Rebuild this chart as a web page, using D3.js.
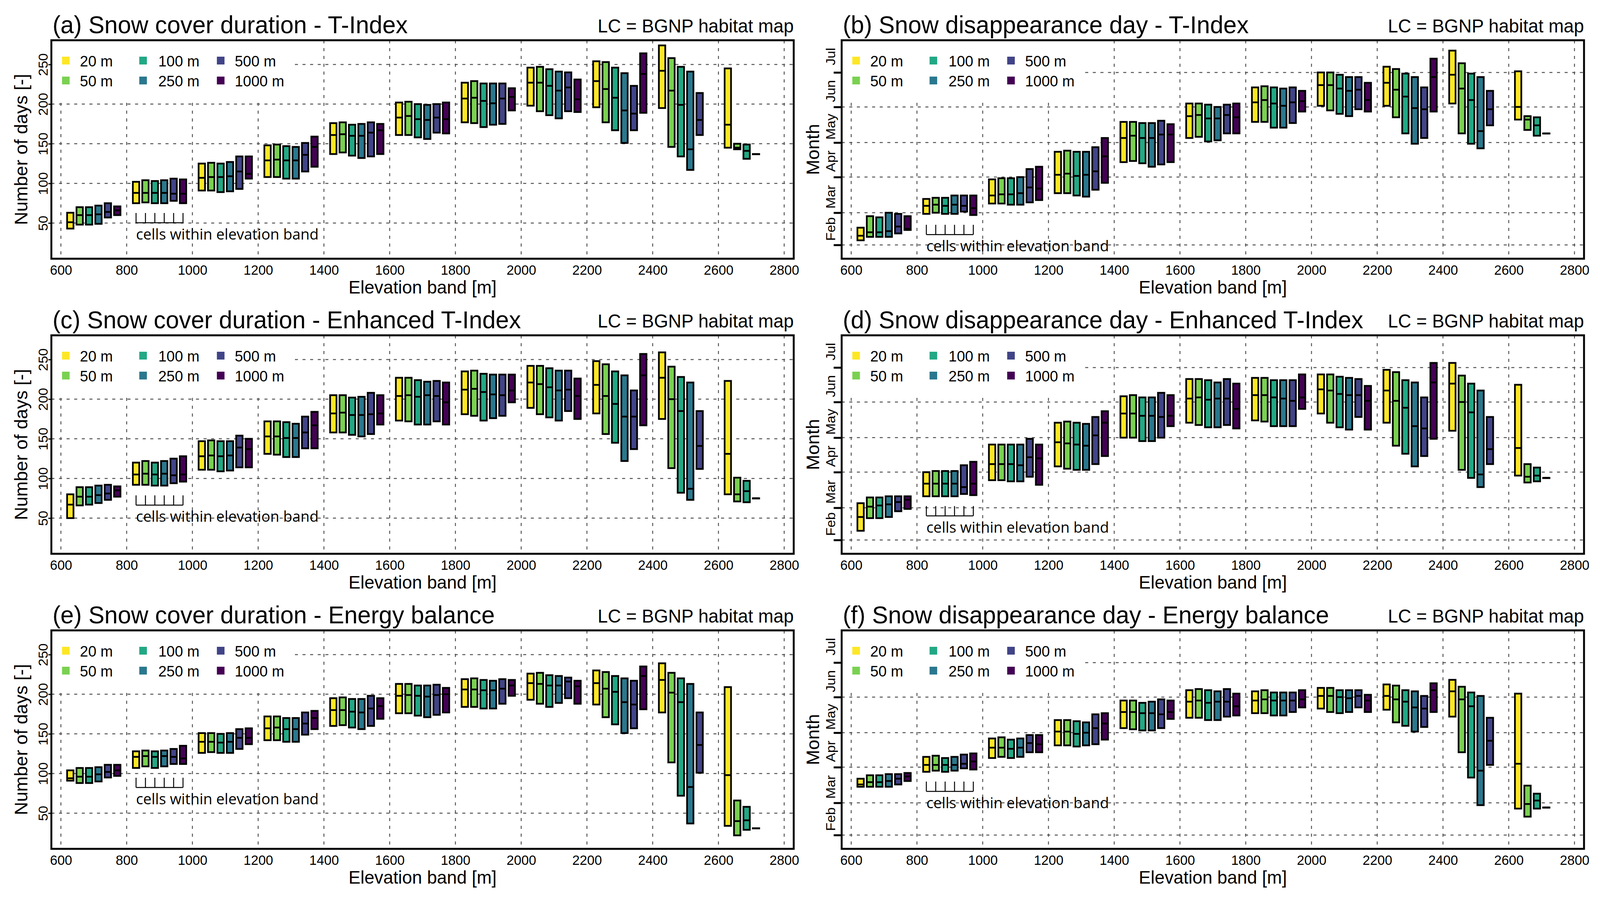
<!DOCTYPE html>
<html>
<head>
<meta charset="utf-8">
<script src="https://cdn.jsdelivr.net/npm/d3@7"></script>
<style>
  html, body { margin: 0; padding: 0; width: 100%; height: 100%; overflow: hidden; background: #fff; }
  #chart { width: 100vw; height: 100vh; }
  svg { display: block; width: 100%; height: 100%; }
</style>
</head>
<body>
<div id="chart"></div>
<script>
'use strict';

// elevation bands (lower bound, m) and grid resolutions
const bands = [600, 800, 1000, 1200, 1400, 1600, 1800, 2000, 2200, 2400, 2600];
const resolutions = ['20 m', '50 m', '100 m', '250 m', '500 m', '1000 m'];
const resColors = ['#FDE725', '#7AD151', '#22A884', '#2A788E', '#414487', '#440154'];

const elevTicks = [600, 800, 1000, 1200, 1400, 1600, 1800, 2000, 2200, 2400, 2600, 2800];
const dayTicks = [50, 100, 150, 200, 250];
// day of year: first of month (ticks / grid) and mid month (labels)
const monthStarts = [32, 60, 91, 121, 152, 182];
const monthMids = [46, 74, 105, 135, 166, 196];
const monthLabels = ['Feb', 'Mar', 'Apr', 'May', 'Jun', 'Jul'];

// [low, median, high] per band, per resolution (null = no cells)
const scdTIndex = [
  [[43,51,63],[48,60,70],[48,60,70],[49,61,72],[57,64,75],[60,66,71]],
  [[75,88,102],[76,88,104],[75,88,103],[75,88,104],[78,87,106],[75,87,105]],
  [[91,107,125],[91,108,126],[89,108,125],[90,109,127],[93,115,134],[106,112,134]],
  [[108,129,148],[108,130,149],[106,129,147],[106,129,146],[115,136,151],[121,146,159]],
  [[137,161,176],[139,162,177],[135,160,174],[132,160,175],[134,164,177],[137,167,175]],
  [[161,183,202],[161,185,203],[158,181,200],[156,180,199],[164,183,200],[163,181,202]],
  [[177,207,227],[176,208,229],[171,204,226],[174,201,226],[175,207,226],[192,209,220]],
  [[198,227,246],[191,227,247],[186,223,244],[182,217,241],[191,221,240],[190,206,231]],
  [[196,229,254],[177,219,253],[167,208,246],[151,192,239],[167,188,223],[189,238,264]],
  [[195,242,274],[146,217,258],[134,199,247],[117,143,241],[161,180,214],null],
  [[145,174,245],[143,145,150],[131,141,149],[137,137,137],null,null]
];

const sddTIndex = [
  [[36,40,47],[39,43,57],[39,43,56],[39,44,60],[42,48,59],[45,46,57]],
  [[59,66,72],[60,67,73],[59,66,73],[59,67,75],[61,66,75],[58,64,75]],
  [[68,75,89],[68,76,90],[67,76,90],[67,77,91],[69,82,98],[71,81,100]],
  [[77,93,113],[77,94,114],[75,92,113],[74,93,113],[80,96,117],[86,109,125]],
  [[104,125,139],[105,127,139],[103,125,138],[100,125,138],[102,128,140],[104,128,137]],
  [[125,144,155],[126,145,155],[122,142,154],[123,142,152],[129,145,154],[129,143,155]],
  [[139,156,169],[139,158,170],[134,155,169],[134,153,168],[138,156,169],[148,157,166]],
  [[153,171,182],[149,171,182],[146,168,180],[144,166,178],[150,167,178],[148,158,173]],
  [[153,173,187],[143,167,185],[129,161,181],[120,151,178],[125,150,169],[148,178,194]],
  [[155,180,201],[129,168,190],[120,158,181],[116,131,178],[136,150,166],null],
  [[141,152,183],[132,141,144],[127,136,143],[129,129,129],null,null]
];

const scdEnhanced = [
  [[50,67,80],[66,77,89],[67,77,89],[69,79,91],[73,81,92],[77,85,90]],
  [[92,105,120],[92,106,122],[91,105,120],[91,106,122],[94,104,125],[96,105,128]],
  [[111,128,147],[111,129,148],[109,128,147],[110,129,147],[114,139,154],[114,137,150]],
  [[131,153,172],[130,153,172],[127,151,171],[127,151,169],[138,158,178],[138,167,184]],
  [[158,182,205],[158,183,205],[155,180,202],[153,180,203],[156,181,208],[168,182,205]],
  [[173,204,227],[172,205,227],[168,203,224],[168,205,222],[172,204,223],[168,196,221]],
  [[181,212,235],[179,213,236],[173,209,232],[176,206,231],[179,205,231],[196,211,231]],
  [[189,221,242],[181,219,242],[177,215,239],[173,211,236],[185,212,236],[175,204,226]],
  [[182,218,248],[156,204,244],[145,194,235],[122,178,230],[137,178,211],[167,230,257]],
  [[175,227,259],[113,200,241],[82,185,228],[73,87,221],[112,141,185],null],
  [[80,131,223],[71,80,101],[70,84,97],[75,75,75],null,null]
];

const sddEnhanced = [
  [[40,52,64],[51,61,69],[51,62,69],[52,63,70],[57,65,70],[59,67,70]],
  [[70,81,91],[70,81,92],[70,81,92],[70,81,92],[72,78,97],[71,81,100]],
  [[84,98,115],[84,98,115],[83,98,115],[83,97,115],[87,104,120],[80,103,115]],
  [[96,117,134],[94,116,135],[93,115,134],[93,114,133],[98,123,139],[105,134,144]],
  [[121,142,157],[121,142,158],[118,140,156],[118,140,156],[121,139,160],[131,140,158]],
  [[134,155,172],[132,156,172],[130,154,171],[130,155,169],[132,155,172],[129,146,168]],
  [[136,158,173],[135,158,173],[131,156,171],[131,155,171],[131,153,171],[146,156,176]],
  [[142,163,176],[134,162,176],[130,159,174],[128,158,173],[139,158,172],[128,153,166]],
  [[134,162,180],[114,153,178],[107,147,171],[96,131,169],[105,129,156],[120,169,186]],
  [[127,168,186],[93,152,175],[86,143,168],[78,89,162],[98,111,139],null],
  [[88,112,167],[82,87,98],[83,88,95],[86,86,86],null,null]
];

const scdEnergy = [
  [[91,94,104],[88,96,107],[88,96,107],[90,99,108],[95,102,111],[97,104,111]],
  [[107,121,128],[109,122,129],[107,121,128],[109,122,129],[112,121,131],[112,119,135]],
  [[126,140,151],[127,140,151],[126,139,150],[126,140,151],[131,145,156],[137,145,157]],
  [[142,157,172],[142,158,172],[140,156,170],[140,156,170],[149,163,177],[156,170,179]],
  [[160,180,195],[161,180,196],[158,178,194],[156,177,194],[160,182,198],[169,185,195]],
  [[176,198,213],[176,199,213],[173,198,211],[171,197,211],[174,199,212],[177,200,208]],
  [[184,206,219],[184,206,220],[182,205,218],[182,205,217],[188,207,219],[198,211,218]],
  [[193,214,226],[188,213,227],[184,211,224],[189,211,223],[195,216,221],[188,210,217]],
  [[187,214,230],[171,207,228],[162,203,223],[151,190,220],[157,187,217],[181,223,235]],
  [[177,218,239],[114,202,227],[72,190,220],[37,83,213],[101,136,177],null],
  [[34,98,209],[22,40,66],[29,41,58],[31,31,31],null,null]
];

const sddEnergy = [
  [[74,76,81],[74,78,84],[74,78,84],[74,79,85],[76,81,85],[79,83,86]],
  [[87,93,100],[88,93,101],[87,93,99],[88,93,100],[90,94,102],[89,96,103]],
  [[99,108,116],[100,108,117],[99,107,115],[100,108,116],[104,112,119],[104,111,119]],
  [[110,122,132],[110,122,132],[109,120,131],[110,121,130],[111,125,137],[115,129,138]],
  [[125,139,149],[124,139,149],[123,138,147],[123,138,148],[125,137,150],[133,139,149]],
  [[134,148,158],[134,149,159],[132,147,158],[132,148,157],[135,148,159],[136,144,155]],
  [[138,149,157],[138,150,158],[136,149,156],[136,149,156],[139,149,156],[143,150,158]],
  [[142,153,160],[139,153,160],[138,152,158],[139,151,158],[143,153,158],[139,149,154]],
  [[141,153,163],[130,150,162],[127,148,158],[122,143,157],[126,142,153],[139,158,164]],
  [[135,157,167],[104,150,161],[82,144,156],[58,88,153],[93,114,134],null],
  [[55,94,155],[48,59,75],[55,62,68],[56,56,56],null,null]
];

const panels = [
  {title: '(a) Snow cover duration - T-Index', kind: 'days', data: scdTIndex, col: 0, row: 0},
  {title: '(b) Snow disappearance day - T-Index', kind: 'doy', data: sddTIndex, col: 1, row: 0},
  {title: '(c) Snow cover duration - Enhanced T-Index', kind: 'days', data: scdEnhanced, col: 0, row: 1},
  {title: '(d) Snow disappearance day - Enhanced T-Index', kind: 'doy', data: sddEnhanced, col: 1, row: 1},
  {title: '(e) Snow cover duration - Energy balance', kind: 'days', data: scdEnergy, col: 0, row: 2},
  {title: '(f) Snow disappearance day - Energy balance', kind: 'doy', data: sddEnergy, col: 1, row: 2}
];

const W = 4205, H = 2308;
const colLeft = [135, 2212];
const rowTop = [103, 858, 1613];
const plotW = 1951, plotH = 559;
const step = 200 / 7;        // spacing of resolutions inside a band
const FONT = '"Liberation Sans", Arial, sans-serif';

// the drawing is laid out in a 4205 x 2308 box and scaled to whatever viewport we get
const svg = d3.select('#chart').append('svg')
    .attr('viewBox', `0 0 ${W} ${H}`)
    .attr('preserveAspectRatio', 'none');
svg.append('rect').attr('width', W).attr('height', H).attr('fill', '#fff');

function drawPanel(p) {
    const left = colLeft[p.col], top = rowTop[p.row];
    const g = svg.append('g').attr('transform', `translate(${left},${top})`);

    const x = d3.scaleLinear().domain([571, 2829]).range([0, plotW]);
    const y = p.kind === 'days'
        ? d3.scaleLinear().domain([5, 280.5]).range([plotH, 0])
        : d3.scaleLinear().domain([20, 210]).range([plotH, 0]);
    const hTicks = p.kind === 'days' ? dayTicks : monthStarts;

    // dashed grid
    const grid = g.append('g')
        .attr('stroke', '#555')
        .attr('stroke-width', 2.5)
        .attr('stroke-dasharray', '8,12');
    grid.selectAll('line.v').data(elevTicks).join('line')
        .attr('class', 'v')
        .attr('x1', d => x(d)).attr('x2', d => x(d))
        .attr('y1', 0).attr('y2', plotH);
    grid.selectAll('line.h').data(hTicks).join('line')
        .attr('class', 'h')
        .attr('x1', 0).attr('x2', plotW)
        .attr('y1', d => y(d)).attr('y2', d => y(d));

    // legend sits on a white patch over the grid
    g.append('rect').attr('x', 0).attr('y', 0)
        .attr('width', 640).attr('height', 151).attr('fill', '#fff');
    const leg = g.append('g').attr('font-family', FONT).attr('font-size', 39);
    const legItems = resolutions.map((r, i) => ({r, i, c: Math.floor(i / 2), k: i % 2}));
    const colSq = [28, 231, 435], colTx = [75, 281, 482];
    leg.selectAll('rect').data(legItems).join('rect')
        .attr('x', d => colSq[d.c])
        .attr('y', d => 42 + d.k * 51)
        .attr('width', 20).attr('height', 20)
        .attr('fill', d => resColors[d.i]);
    leg.selectAll('text').data(legItems).join('text')
        .attr('x', d => colTx[d.c])
        .attr('y', d => 67 + d.k * 51)
        .text(d => d.r);

    // boxes
    const boxes = [];
    p.data.forEach((band, bi) => band.forEach((e, ri) => {
        if (e) boxes.push({cx: bands[bi] + step * (ri + 1), lo: e[0], med: e[1], hi: e[2], ri});
    }));
    const bw = x(571 + step * 0.68) - x(571);
    const bx = g.append('g');
    bx.selectAll('rect').data(boxes).join('rect')
        .attr('x', d => x(d.cx) - bw / 2)
        .attr('y', d => y(d.hi))
        .attr('width', bw)
        .attr('height', d => Math.max(y(d.lo) - y(d.hi), 0.5))
        .attr('fill', d => resColors[d.ri])
        .attr('stroke', '#000')
        .attr('stroke-width', 4.5);
    bx.selectAll('line').data(boxes).join('line')
        .attr('x1', d => x(d.cx) - bw / 2)
        .attr('x2', d => x(d.cx) + bw / 2)
        .attr('y1', d => y(d.med)).attr('y2', d => y(d.med))
        .attr('stroke', '#000')
        .attr('stroke-width', 4.5);

    // "cells within elevation band" bracket under the 800 m band
    const minLow = d3.min(p.data[1], e => e ? e[0] : undefined);
    const by = y(minLow) + 50;
    const centers = d3.range(6).map(i => bands[1] + step * (i + 1));
    const br = g.append('g').attr('stroke', '#000').attr('stroke-width', 2.5);
    br.append('line')
        .attr('x1', x(centers[0])).attr('x2', x(centers[5]))
        .attr('y1', by).attr('y2', by);
    br.selectAll('line.t').data(centers).join('line')
        .attr('class', 't')
        .attr('x1', d => x(d)).attr('x2', d => x(d))
        .attr('y1', by).attr('y2', by - 25);
    g.append('text')
        .attr('x', x(centers[0]))
        .attr('y', by + 43)
        .attr('font-family', '"Open Sans", sans-serif')
        .attr('font-size', 39)
        .text('cells within elevation band');

    // x axis
    g.append('g')
        .attr('transform', `translate(0,${plotH})`)
        .call(d3.axisBottom(x).tickValues(elevTicks).tickSize(0).tickPadding(16).tickFormat(d3.format('d')))
        .call(a => a.select('.domain').remove())
        .call(a => a.selectAll('text').attr('font-family', FONT).attr('font-size', 35).attr('fill', '#000'));

    // y axis
    if (p.kind === 'days') {
        g.append('g')
            .call(d3.axisLeft(y).tickValues(dayTicks).tickSize(8))
            .call(a => a.select('.domain').remove())
            .call(a => a.selectAll('line').attr('stroke-width', 3))
            .call(a => a.selectAll('text')
                .attr('x', 0).attr('dy', 0)
                .attr('text-anchor', 'middle')
                .attr('transform', 'translate(-10,0) rotate(-90)')
                .attr('font-family', FONT).attr('font-size', 35).attr('fill', '#000'));
    } else {
        g.append('g')
            .call(d3.axisLeft(y).tickValues(monthStarts).tickSize(21).tickFormat(''))
            .call(a => a.select('.domain').remove())
            .call(a => a.selectAll('line').attr('stroke-width', 5));
        g.append('g')
            .call(d3.axisLeft(y).tickValues(monthMids).tickSize(0)
                .tickFormat((d, i) => monthLabels[i]))
            .call(a => a.select('.domain').remove())
            .call(a => a.selectAll('text')
                .attr('x', 0).attr('dy', 0)
                .attr('text-anchor', 'middle')
                .attr('transform', 'translate(-17,0) rotate(-90)')
                .attr('font-family', FONT).attr('font-size', 35).attr('fill', '#000'));
    }

    // frame
    g.append('rect')
        .attr('width', plotW).attr('height', plotH)
        .attr('fill', 'none').attr('stroke', '#000').attr('stroke-width', 5);

    // titles
    g.append('text')
        .attr('x', 3).attr('y', -18)
        .attr('font-family', FONT).attr('font-size', 63)
        .text(p.title);
    g.append('text')
        .attr('x', plotW).attr('y', -20)
        .attr('text-anchor', 'end')
        .attr('font-family', FONT).attr('font-size', 48)
        .text('LC = BGNP habitat map');
    g.append('text')
        .attr('x', plotW / 2).attr('y', plotH + 89)
        .attr('text-anchor', 'middle')
        .attr('font-family', FONT).attr('font-size', 47)
        .text('Elevation band [m]');
    g.append('text')
        .attr('transform', `translate(${p.kind === 'days' ? -63 : -59},${plotH / 2}) rotate(-90)`)
        .attr('text-anchor', 'middle')
        .attr('font-family', FONT).attr('font-size', 47)
        .text(p.kind === 'days' ? 'Number of days [-]' : 'Month');
}

panels.forEach(drawPanel);
</script>
</body>
</html>
